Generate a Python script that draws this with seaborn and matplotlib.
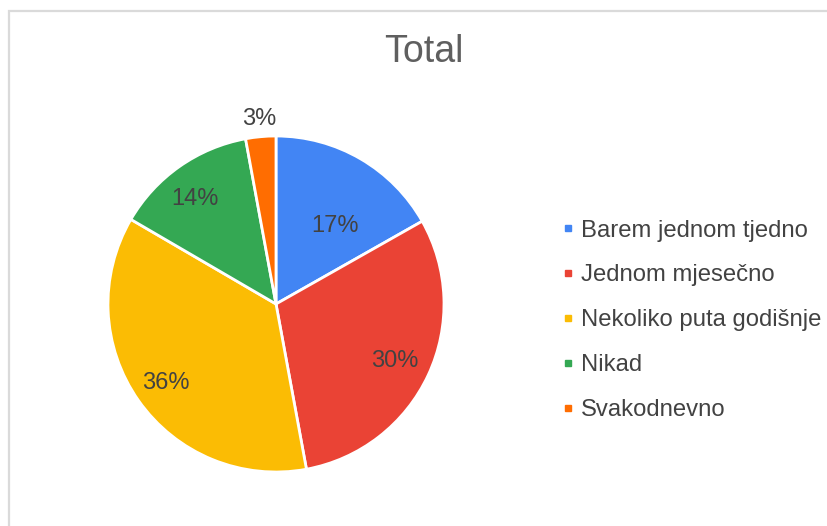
import numpy as np
import matplotlib.pyplot as plt
import seaborn as sns
from matplotlib.lines import Line2D
from matplotlib.patches import Rectangle

# data (shares in %)
categories = ["Barem jednom tjedno", "Jednom mjesečno", "Nekoliko puta godišnje", "Nikad", "Svakodnevno"]
shares = [16.8, 30.3, 36.3, 13.7, 2.9]
colors = ["#4285F4", "#EA4335", "#FBBC04", "#34A853", "#FF6D01"]
label_dist = [0.59, 0.78, 0.8, 0.8, 1.12]    # where each % label sits (fraction of radius)
label_turn = [-6, 0, 0, 2, 0]                # small angle nudges (deg) for the labels

sns.set_theme(style="white")
plt.rcParams['font.family'] = ['Liberation Sans', 'DejaVu Sans']

W, H = 828, 526
fig = plt.figure(figsize=(W / 100, H / 100), dpi=100)
fig.patch.set_facecolor("white")

# light grey frame round the chart area
fig.patches.append(Rectangle((9 / W, -0.1), 1.2, 1.1 - 10.5 / H, transform=fig.transFigure,
                             fill=False, edgecolor="#dadada", linewidth=1.6))

cx, cy, r = 276, 304, 168
ax = fig.add_axes([(cx - r) / W, (H - cy - r) / H, 2 * r / W, 2 * r / H])
wedges, _ = ax.pie(shares, colors=colors, startangle=90, counterclock=False, radius=1,
                   wedgeprops=dict(edgecolor="white", linewidth=2))
ax.set_xlim(-1, 1)
ax.set_ylim(-1, 1)

for w, d, t, s in zip(wedges, label_dist, label_turn, shares):
    ang = np.deg2rad((w.theta1 + w.theta2) / 2 + t)
    ax.text(d * np.cos(ang), d * np.sin(ang) - 0.012, f"{s:.0f}%", ha="center", va="center",
            fontsize=17, color="#424242")

fig.text(424 / W, 1 - 52 / H, "Total", ha="center", va="center", fontsize=27, color="#5f5f5f")

handles = [Line2D([], [], marker="s", linestyle="none", markersize=5,
                  markerfacecolor=c, markeredgecolor=c) for c in colors]
fig.legend(handles, categories, loc="upper left", bbox_to_anchor=(562 / W, 1 - 219.5 / H),
           frameon=False, fontsize=17.2, handlelength=0.5, handletextpad=0.3,
           labelspacing=0.96, borderpad=0, borderaxespad=0, labelcolor="#424242")

fig.savefig("out.png", dpi=100, facecolor="white")
